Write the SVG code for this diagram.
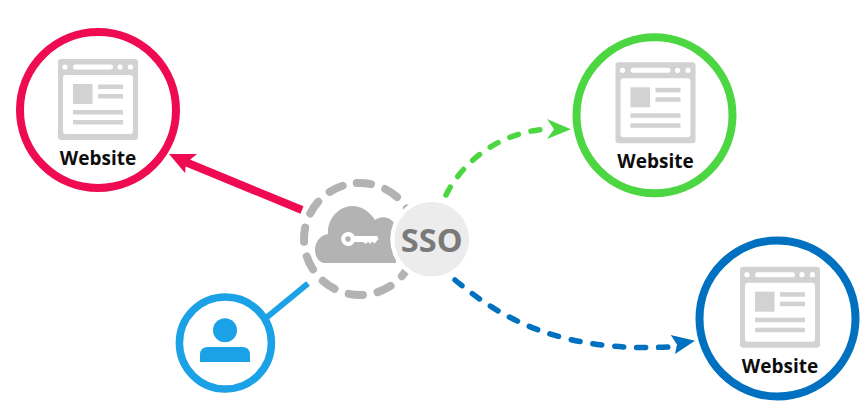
<svg xmlns="http://www.w3.org/2000/svg" width="866" height="408" viewBox="0 0 866 408">
<defs>
<style>
.ring{fill:#fff;stroke-width:8}
.ico{fill:#d2d2d2}
.w{fill:#fff}
.lbl{font-family:"Open Sans","Noto Sans",sans-serif;font-weight:700;font-size:19px;fill:#0d0d0d;text-anchor:middle}
.dash{fill:none;stroke-width:5.500;stroke-linecap:round;stroke-dasharray:9 13}
</style>
<g id="browser">
<rect x="-40" y="-51" width="80" height="81" rx="3" class="ico"/>
<rect x="-35" y="-35" width="70" height="59" rx="3" class="w"/>
<circle cx="-33" cy="-43" r="2.6" class="w"/>
<rect x="-25" y="-45.500" width="40" height="5" rx="2.500" class="w"/>
<circle cx="22" cy="-43" r="2.600" class="w"/>
<circle cx="32.500" cy="-43" r="2.600" class="w"/>
<rect x="-25" y="-26" width="19.500" height="20" class="ico"/>
<rect x="0" y="-25.500" width="25" height="4.500" class="ico"/>
<rect x="0" y="-16" width="25" height="4.500" class="ico"/>
<rect x="-25" y="0" width="50" height="4.500" class="ico"/>
<rect x="-25" y="10" width="50" height="4.500" class="ico"/>
</g>
</defs>
<rect width="866" height="408" fill="#fff"/>
<g id="connectors">
<line x1="302" y1="210" x2="183" y2="161" stroke="#ee0b52" stroke-width="8"/>
<polygon points="169,154 197,154 186,163 185,173" fill="#ee0b52"/>
<line x1="308" y1="283.500" x2="266" y2="318" stroke="#1ba1e6" stroke-width="6"/>
<path class="dash" stroke="#4cd642" d="M446,195 C462,163 497,133 546,129"/>
<polygon points="571,129.300 547,119 554,129.300 547,139" fill="#4cd642"/>
<path class="dash" stroke="#0070c0" d="M455,280 C505,322 565,352 668,347"/>
<polygon points="695,340.700 670.700,335 677,344.500 675,354" fill="#0070c0"/>
</g>
<g id="site-red">
<circle cx="98" cy="110" r="78" class="ring" stroke="#ee0b52"/>
<use href="#browser" x="98" y="110"/>
<text x="98" y="165" class="lbl">Website</text>
</g>
<g id="site-green">
<circle cx="654.500" cy="115.300" r="78" class="ring" stroke="#4cd642"/>
<use href="#browser" x="655.500" y="113.300"/>
<text x="655.500" y="168" class="lbl">Website</text>
</g>
<g id="site-blue">
<circle cx="777.500" cy="318.500" r="78" class="ring" stroke="#0070c0"/>
<use href="#browser" x="780" y="317.700"/>
<text x="780" y="372.500" class="lbl">Website</text>
</g>
<g id="user">
<circle cx="225.400" cy="343" r="46" fill="#fff" stroke="#1ba1e6" stroke-width="7.500"/>
<circle cx="225" cy="330.300" r="12" fill="#1ba1e6"/>
<path d="M200,362 V355 Q200,347 208,347 H242 Q250,347 250,355 V362 Z" fill="#1ba1e6"/>
</g>
<g id="sso">
<circle cx="360" cy="239" r="56" fill="none" stroke="#b3b3b3" stroke-width="8" stroke-linecap="round" stroke-dasharray="14.320 15" transform="rotate(-93.300 360 239)"/>
<path d="M325,263 C318,263 315,255 315,250 C315,240 322,235 328,234 C327,218 340,206 352,206 C362,206 370,212 375,220 C382,215 392,217 396,226 V263 Z" fill="#b3b3b3"/>
<circle cx="431.700" cy="239.300" r="41.500" fill="#fff"/>
<circle cx="431.700" cy="239.300" r="37.300" fill="#ececec"/>
<path fill-rule="evenodd" fill="#fff" d="M348,232 A7,7 0 0 1 354.500,236 H377 L378.500,239 L374.500,243.500 L372,241.500 L370,244 L368,241.500 L366,244 L363,242 H354.500 A7,7 0 1 1 348,232 Z M348,236.300 A2.700,2.700 0 1 0 348,241.700 A2.700,2.700 0 1 0 348,236.300 Z"/>
<text x="431.700" y="251.700" font-family="'Open Sans','Noto Sans',sans-serif" font-weight="700" font-size="32.500" fill="#7a7a7a" text-anchor="middle">SSO</text>
</g>
</svg>
